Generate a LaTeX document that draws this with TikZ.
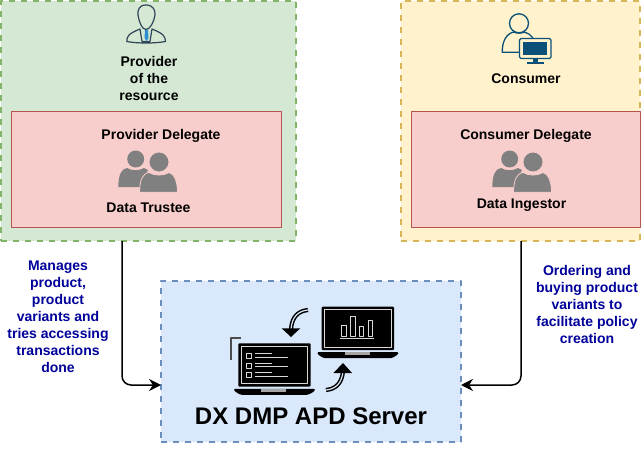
\documentclass[tikz,border=0pt]{standalone}
\usepackage{fontspec}
\usetikzlibrary{arrows.meta}
\setmainfont{Liberation Sans}
\definecolor{grnfill}{HTML}{D5E8D4}
\definecolor{grnline}{HTML}{82B366}
\definecolor{redfill}{HTML}{F8CECC}
\definecolor{redline}{HTML}{B85450}
\definecolor{ylwfill}{HTML}{FFF2CC}
\definecolor{ylwline}{HTML}{D6B656}
\definecolor{blufill}{HTML}{DAE8FC}
\definecolor{bluline}{HTML}{6C8EBF}
\definecolor{navytext}{HTML}{00009A}
\definecolor{suitcol}{HTML}{2F4558}
\definecolor{tiecol}{HTML}{2E8FD0}
\definecolor{usercol}{HTML}{0B5078}
\definecolor{groupcol}{HTML}{808080}
\tikzset{
  dashbox/.style={draw, line width=2pt, dash pattern=on 6pt off 6pt, anchor=north west, inner sep=0pt, outer sep=0pt},
  redbox/.style={draw=redline, fill=redfill, line width=0.8pt, anchor=north west, inner sep=0pt, outer sep=0pt},
  lbl/.style={font=\fontsize{14}{17}\selectfont\bfseries, align=center, inner sep=0pt},
  bluelbl/.style={lbl, text=navytext},
  link/.style={draw, line width=1.5pt, rounded corners=9pt, -{Stealth[length=12pt,width=12pt]}},
  icoline/.style={white!85!black, line width=0.9pt},
}
% two grey people, #1 is the left edge
\newcommand{\groupicon}[1]{
  \begin{scope}[xshift=#1]
    \fill[groupcol] (17.7,159) circle(8.5);
    \fill[groupcol] (0.3,187) .. controls (0.5,175) and (3,169) .. (9,168) .. controls (14,171) and (21,171) .. (26,168) -- (30,170) -- (22,187) -- cycle;
    \fill[groupcol, draw=redfill, line width=0.8pt] (41,162) circle(10);
    \fill[groupcol, draw=redfill, line width=0.8pt] (21.5,192.2) .. controls (22,180) and (24,174) .. (31,172.5) .. controls (37,176) and (45,176) .. (51,172.5) .. controls (56,174) and (59,180) .. (59.7,192.2) -- cycle;
  \end{scope}
}
% laptop, #1 and #2 give the top left of the screen
\newcommand{\laptopicon}[2]{
  \begin{scope}[shift={(#1,#2)}]
    \fill[black, rounded corners=1pt] (0,0) rectangle (72.3,43.3);
    \draw[icoline] (3,3) rectangle (69.3,40.3);
    \fill[black, rounded corners=1.5pt] (-5,45.5) -- (77.3,45.5) -- (76,48) -- (70,51.5) -- (2,51.5) -- (-3.5,48) -- cycle;
    \fill[groupcol!70!white] (23,45.5) rectangle (48,48.5);
  \end{scope}
}
\begin{document}
\begin{tikzpicture}[x=1pt, y=-1pt, line join=round, >=stealth]
  \useasboundingbox (0,0) rectangle (641,461);
  \fill[white] (0,0) rectangle (641,461);

  \node[dashbox, draw=grnline, fill=grnfill, minimum width=295pt, minimum height=240pt] (provider) at (1,1) {};
  \node[dashbox, draw=ylwline, fill=ylwfill, minimum width=239pt, minimum height=240pt] (consumer) at (401,1) {};
  \node[redbox, minimum width=270pt, minimum height=116pt] (provdel) at (11,111) {};
  \node[redbox, minimum width=229pt, minimum height=116pt] (consdel) at (411,111) {};
  \node[dashbox, draw=bluline, fill=blufill, minimum width=300pt, minimum height=161pt] (server) at (161,281) {};

  % provider person
  \fill[grnfill, draw=suitcol, line width=1.2pt] (126.8,41.5) .. controls (127,36) and (128,34) .. (140,29) -- (142,41.5) -- (150,41.5) -- (152,29) .. controls (164,34) and (165,36) .. (165.5,41.5) .. controls (155,43.5) and (137,43.5) .. (126.8,41.5) -- cycle;
  \draw[suitcol, line width=1.2pt] (146,5) .. controls (139,5) and (137.5,10) .. (138,15) .. controls (139,22) and (142,29.5) .. (146,29.5) .. controls (150,29.5) and (154,22) .. (155,15) .. controls (155.5,10) and (153,5) .. (146,5) -- cycle;
  \fill[tiecol] (145,30) -- (148,30) -- (148.5,38) -- (146.5,41) -- (144.5,38) -- cycle;

  % consumer person
  \draw[usercol, line width=1.3pt] (519,23.3) circle(9.5);
  \draw[usercol, line width=1.3pt] (519,52.3) -- (502.3,52.3) .. controls (502,42) and (506,34) .. (513.5,32) .. controls (517,33.5) and (521,33.5) .. (524.5,32) .. controls (528,33) and (531,35) .. (533,38);
  \fill[ylwfill, draw=usercol, line width=1.2pt, rounded corners=1.5pt] (519.5,38.5) rectangle (551,58.5);
  \fill[usercol] (523,41.7) rectangle (547,55);
  \fill[usercol] (532.5,58.5) rectangle (538,62);
  \fill[usercol] (526.7,61.7) rectangle (544,63.7);

  \groupicon{118pt}
  \groupicon{492pt}

  \node[lbl] (provname) at (149,78.5) {Provider\\of the\\resource};
  \node[lbl] (consname) at (526,79) {Consumer};
  \node[lbl] (provtitle) at (161,136) {Provider Delegate};
  \node[lbl] (constitle) at (526,136) {Consumer Delegate};
  \node[lbl] (trustee) at (148.5,208) {Data Trustee};
  \node[lbl] (ingestor) at (521.5,205) {Data Ingestor};
  \node[bluelbl] (provnote) at (58,317) {Manages\\product,\\product\\variants and\\tries accessing\\transactions\\done};
  \node[bluelbl] (consnote) at (587,304) {Ordering and\\buying product\\variants to\\facilitate policy\\creation};
  \node[lbl, font=\fontsize{24}{28}\selectfont\bfseries] (srvname) at (311,416.5) {DX DMP APD Server};

  % laptops and their arrows
  \laptopicon{321.7}{306.7}
  \laptopicon{238.3}{343.3}
  \foreach \bx/\by in {341.7/325, 350.7/316.7, 359.3/326.7, 368.3/320}
    \draw[icoline] (\bx,\by) rectangle (\bx+4.6,336.7);
  \draw[icoline] (340,338.5) -- (374,338.5);
  \foreach \ly in {356,365.7,375}{
    \draw[icoline] (246.5,\ly-2.5) rectangle ++(5,5);
    \draw[icoline] (255,\ly-2.5) -- (272,\ly-2.5);
    \draw[icoline] (255,\ly+1) -- (288,\ly+1);
  }
  \draw[black!70, line width=1.3pt] (231,360) -- (231,338) -- (241,338);
  \draw[black, line width=4.2pt] (308,310) .. controls (298,311) and (292,317) .. (291,329);
  \draw[blufill, line width=1.2pt] (308,310) .. controls (298,311) and (292,317) .. (291,329);
  \fill[black] (281.7,328.3) -- (300.3,328.3) -- (291,337) -- cycle;
  \draw[black, line width=4.2pt] (326,390) .. controls (336,389) and (342,383) .. (343,371);
  \draw[blufill, line width=1.2pt] (326,390) .. controls (336,389) and (342,383) .. (343,371);
  \fill[black] (333.5,373) -- (352,373) -- (343,363) -- cycle;

  % connectors
  \coordinate (provout) at (122,241);
  \coordinate (consout) at (521,241);
  \coordinate (srvleft) at (161,385);
  \coordinate (srvright) at (461,385);
  \draw[link] (provout) |- (srvleft);
  \draw[link] (consout) |- (srvright);
\end{tikzpicture}
\end{document}
